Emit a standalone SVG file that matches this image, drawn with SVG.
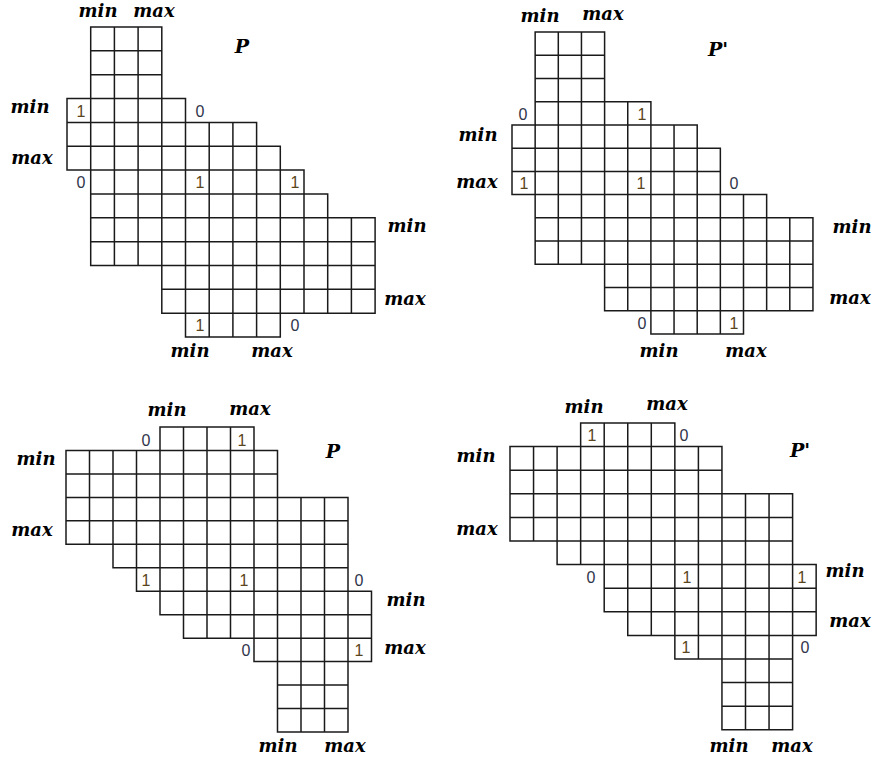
<svg xmlns="http://www.w3.org/2000/svg" width="872" height="759" viewBox="0 0 872 759">
<style>
.grid{fill:none;stroke:#1a1a1a;stroke-width:1.5;stroke-linecap:square;vector-effect:non-scaling-stroke}
.lbl{font-family:"DejaVu Serif",serif;font-weight:bold;font-style:italic;font-size:18px;fill:#000;text-anchor:middle}
.ttl{font-family:"DejaVu Serif",serif;font-weight:bold;font-style:italic;font-size:19px;fill:#000;text-anchor:middle}
.d{font-family:"Liberation Sans",Arial,sans-serif;font-size:16px;text-anchor:middle}
.one{fill:#5a4520}
.zero{fill:#30344a}
</style>
<rect width="872" height="759" fill="#fff"/>
<g id="grid-P-top">
<path class="grid" vector-effect="non-scaling-stroke" transform="translate(67,27) scale(23.7,23.85)" d="M1 0H4M1 1H4M1 2H4M0 3H5M0 4H8M0 5H9M0 6H10M1 7H11M1 8H13M1 9H13M1 10H13M4 11H13M4 12H13M5 13H9M0 3V6M1 0V10M2 0V10M3 0V10M4 0V12M5 3V13M6 4V13M7 4V13M8 4V13M9 5V13M10 6V12M11 7V12M12 8V12M13 8V12"/>
<text class="d one" x="81" y="117">1</text>
<text class="d zero" x="200" y="117">0</text>
<text class="d zero" x="81" y="188">0</text>
<text class="d one" x="200" y="188">1</text>
<text class="d one" x="295" y="188">1</text>
<text class="d one" x="200" y="331">1</text>
<text class="d zero" x="295" y="331">0</text>
<text class="lbl" x="98" y="17">min</text>
<text class="lbl" x="154" y="17">max</text>
<text class="lbl" x="30" y="113">min</text>
<text class="lbl" x="32" y="164">max</text>
<text class="lbl" x="407" y="232">min</text>
<text class="lbl" x="405" y="305">max</text>
<text class="lbl" x="190" y="357">min</text>
<text class="lbl" x="272" y="357">max</text>
<text class="ttl" x="242" y="53">P</text>
</g>
<g id="grid-P-prime-top">
<path class="grid" vector-effect="non-scaling-stroke" transform="translate(512,32) scale(23.15,23.23)" d="M1 0H4M1 1H4M1 2H4M1 3H6M0 4H8M0 5H9M0 6H9M0 7H11M1 8H13M1 9H13M1 10H13M4 11H13M4 12H13M6 13H10M0 4V7M1 0V10M2 0V10M3 0V10M4 0V12M5 3V12M6 3V13M7 4V13M8 4V13M9 5V13M10 7V13M11 7V12M12 8V12M13 8V12"/>
<text class="d zero" x="523" y="120">0</text>
<text class="d one" x="642" y="120">1</text>
<text class="d one" x="524" y="189">1</text>
<text class="d one" x="641" y="189">1</text>
<text class="d zero" x="734" y="189">0</text>
<text class="d zero" x="642" y="329">0</text>
<text class="d one" x="734" y="329">1</text>
<text class="lbl" x="540" y="22">min</text>
<text class="lbl" x="603" y="20">max</text>
<text class="lbl" x="478" y="141">min</text>
<text class="lbl" x="477" y="188">max</text>
<text class="lbl" x="852" y="233">min</text>
<text class="lbl" x="850" y="304">max</text>
<text class="lbl" x="659" y="357">min</text>
<text class="lbl" x="746" y="357">max</text>
<text class="ttl" x="718" y="56">P'</text>
</g>
<g id="grid-P-bottom">
<path class="grid" vector-effect="non-scaling-stroke" transform="translate(66,427) scale(23.5,23.46)" d="M4 0H8M0 1H9M0 2H9M0 3H12M0 4H12M0 5H12M2 6H12M3 7H13M4 8H13M5 9H13M8 10H13M9 11H12M9 12H12M9 13H12M0 1V5M1 1V5M2 1V6M3 1V7M4 0V8M5 0V9M6 0V9M7 0V9M8 0V10M9 1V13M10 3V13M11 3V13M12 3V13M13 7V10"/>
<text class="d zero" x="146" y="446">0</text>
<text class="d one" x="242" y="446">1</text>
<text class="d one" x="146" y="586">1</text>
<text class="d one" x="244" y="586">1</text>
<text class="d zero" x="359" y="586">0</text>
<text class="d zero" x="246" y="656">0</text>
<text class="d one" x="359" y="656">1</text>
<text class="lbl" x="167" y="416">min</text>
<text class="lbl" x="250" y="415">max</text>
<text class="lbl" x="36" y="465">min</text>
<text class="lbl" x="32" y="536">max</text>
<text class="lbl" x="406" y="606">min</text>
<text class="lbl" x="405" y="654">max</text>
<text class="lbl" x="278" y="752">min</text>
<text class="lbl" x="345" y="752">max</text>
<text class="ttl" x="333" y="458">P</text>
</g>
<g id="grid-P-prime-bottom">
<path class="grid" vector-effect="non-scaling-stroke" transform="translate(510,423) scale(23.55,23.6)" d="M3 0H7M0 1H9M0 2H9M0 3H12M0 4H12M0 5H12M2 6H13M4 7H13M4 8H13M5 9H13M7 10H12M9 11H12M9 12H12M9 13H12M0 1V5M1 1V5M2 1V6M3 0V6M4 0V8M5 0V9M6 0V9M7 0V10M8 1V10M9 1V13M10 3V13M11 3V13M12 3V13M13 6V9"/>
<text class="d one" x="592" y="441">1</text>
<text class="d zero" x="684" y="441">0</text>
<text class="d zero" x="591" y="583">0</text>
<text class="d one" x="687" y="583">1</text>
<text class="d one" x="802" y="583">1</text>
<text class="d one" x="686" y="653">1</text>
<text class="d zero" x="805" y="653">0</text>
<text class="lbl" x="584" y="413">min</text>
<text class="lbl" x="667" y="410">max</text>
<text class="lbl" x="476" y="462">min</text>
<text class="lbl" x="477" y="535">max</text>
<text class="lbl" x="845" y="577">min</text>
<text class="lbl" x="850" y="627">max</text>
<text class="lbl" x="729" y="752">min</text>
<text class="lbl" x="792" y="752">max</text>
<text class="ttl" x="800" y="457">P'</text>
</g>
<g id="connectors"></g>
</svg>
